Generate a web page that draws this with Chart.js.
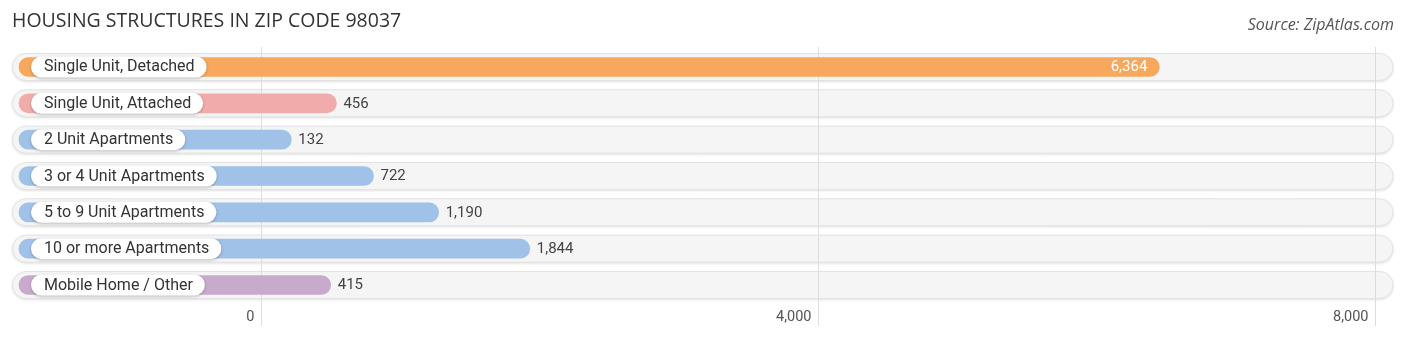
<!DOCTYPE html>
<html>
<head>
<meta charset="utf-8">
<script src="https://cdn.jsdelivr.net/npm/chart.js@4"></script>
<style>
  html, body { margin: 0; padding: 0; background: #ffffff; }
  #wrap { width: 1406px; height: 341px; position: relative; }
</style>
</head>
<body>
<div id="wrap"><canvas id="chart" width="1406" height="341"></canvas></div>
<script>
const TITLE = "HOUSING STRUCTURES IN ZIP CODE 98037";
const SOURCE = "Source: ZipAtlas.com";

const categories = [
  "Single Unit, Detached",
  "Single Unit, Attached",
  "2 Unit Apartments",
  "3 or 4 Unit Apartments",
  "5 to 9 Unit Apartments",
  "10 or more Apartments",
  "Mobile Home / Other",
];
const values = [6364, 456, 132, 722, 1190, 1844, 415];
const barColors = ["#f8a85c", "#f1abab", "#a0c1e8", "#a0c1e8", "#a0c1e8", "#a0c1e8", "#c8aacd"];
const tickValues = [0, 4000, 8000];
const tickLabels = ["0", "4,000", "8,000"];

// bar ends sit a little past the grid line of the same value (zipatlas style)
const GRID_SHIFT = 12;

function roundRect(ctx, x, y, w, h, r) {
  ctx.beginPath();
  ctx.moveTo(x + r, y);
  ctx.lineTo(x + w - r, y);
  ctx.arc(x + w - r, y + r, r, -Math.PI / 2, Math.PI / 2);
  ctx.lineTo(x + r, y + h);
  ctx.arc(x + r, y + r, r, Math.PI / 2, Math.PI * 1.5);
  ctx.closePath();
}

const decor = {
  id: "decor",
  beforeDatasetsDraw(chart) {
    const ctx = chart.ctx;
    const xs = chart.scales.x;
    const ys = chart.scales.y;

    // title + source
    ctx.save();
    ctx.fillStyle = "#333333";
    ctx.font = "19.5px 'Open Sans'";
    ctx.textBaseline = "middle";
    ctx.textAlign = "left";
    ctx.fillText(TITLE, 12, 21);
    ctx.fillStyle = "#555555";
    ctx.font = "italic 16px 'Open Sans'";
    ctx.textAlign = "right";
    ctx.fillText(SOURCE, 1394, 25);
    ctx.restore();

    // background tracks
    categories.forEach((c, i) => {
      const yc = ys.getPixelForValue(i);
      ctx.save();
      ctx.shadowColor = "rgba(0,0,0,0.16)";
      ctx.shadowBlur = 3;
      ctx.shadowOffsetY = 1;
      roundRect(ctx, 12.5, yc - 13.5, 1380.5, 27, 13.5);
      ctx.fillStyle = "#f5f5f5";
      ctx.fill();
      ctx.restore();
      ctx.save();
      roundRect(ctx, 12.5, yc - 13.5, 1380.5, 27, 13.5);
      ctx.strokeStyle = "#e3e3e3";
      ctx.lineWidth = 1;
      ctx.stroke();
      ctx.restore();
    });

    // grid lines + tick labels
    ctx.save();
    tickValues.forEach((t, i) => {
      const x = Math.round(xs.getPixelForValue(t) - GRID_SHIFT) + 0.5;
      ctx.strokeStyle = "#dddddd";
      ctx.lineWidth = 1;
      ctx.beginPath();
      ctx.moveTo(x, 47);
      ctx.lineTo(x, 326);
      ctx.stroke();
      ctx.fillStyle = "#555555";
      ctx.font = "14.5px Roboto";
      ctx.textAlign = "right";
      ctx.textBaseline = "middle";
      ctx.fillText(tickLabels[i], x - 7, 317);
    });
    ctx.restore();
  },
  afterDatasetsDraw(chart) {
    const ctx = chart.ctx;
    const meta = chart.getDatasetMeta(0);
    meta.data.forEach((bar, i) => {
      const yc = bar.y;
      // label pill
      ctx.save();
      ctx.font = "16px Roboto";
      const tw = ctx.measureText(categories[i]).width;
      ctx.shadowColor = "rgba(0,0,0,0.25)";
      ctx.shadowBlur = 3;
      ctx.shadowOffsetX = 0;
      ctx.shadowOffsetY = 1;
      roundRect(ctx, 31, yc - 10.5, tw + 25, 21, 10.5);
      ctx.fillStyle = "#ffffff";
      ctx.fill();
      ctx.restore();
      ctx.save();
      ctx.font = "16px Roboto";
      ctx.fillStyle = "#333333";
      ctx.textAlign = "left";
      ctx.textBaseline = "middle";
      ctx.fillText(categories[i], 44, yc + 0.5);

      // value label
      const txt = values[i].toLocaleString("en-US");
      ctx.font = "15px Roboto";
      if (bar.x > 900) {
        ctx.fillStyle = "#ffffff";
        ctx.textAlign = "right";
        ctx.fillText(txt, bar.x - 12, yc + 0.5);
      } else {
        ctx.fillStyle = "#444444";
        ctx.textAlign = "left";
        ctx.fillText(txt, bar.x + 7, yc + 0.5);
      }
      ctx.restore();
    });
  },
};

new Chart(document.getElementById("chart").getContext("2d"), {
  type: "bar",
  data: {
    labels: categories,
    datasets: [{
      data: values,
      base: -1823,
      backgroundColor: barColors,
      borderRadius: 10,
      borderSkipped: false,
      barThickness: 19,
    }],
  },
  options: {
    indexAxis: "y",
    responsive: false,
    animation: false,
    layout: { padding: { top: 48.8, bottom: 37.8, left: 0, right: 0 } },
    plugins: {
      legend: { display: false },
      tooltip: { enabled: false },
    },
    scales: {
      x: { display: false, min: -1959.2, max: 8134.7 },
      y: { display: false },
    },
  },
  plugins: [decor],
});
</script>
</body>
</html>
